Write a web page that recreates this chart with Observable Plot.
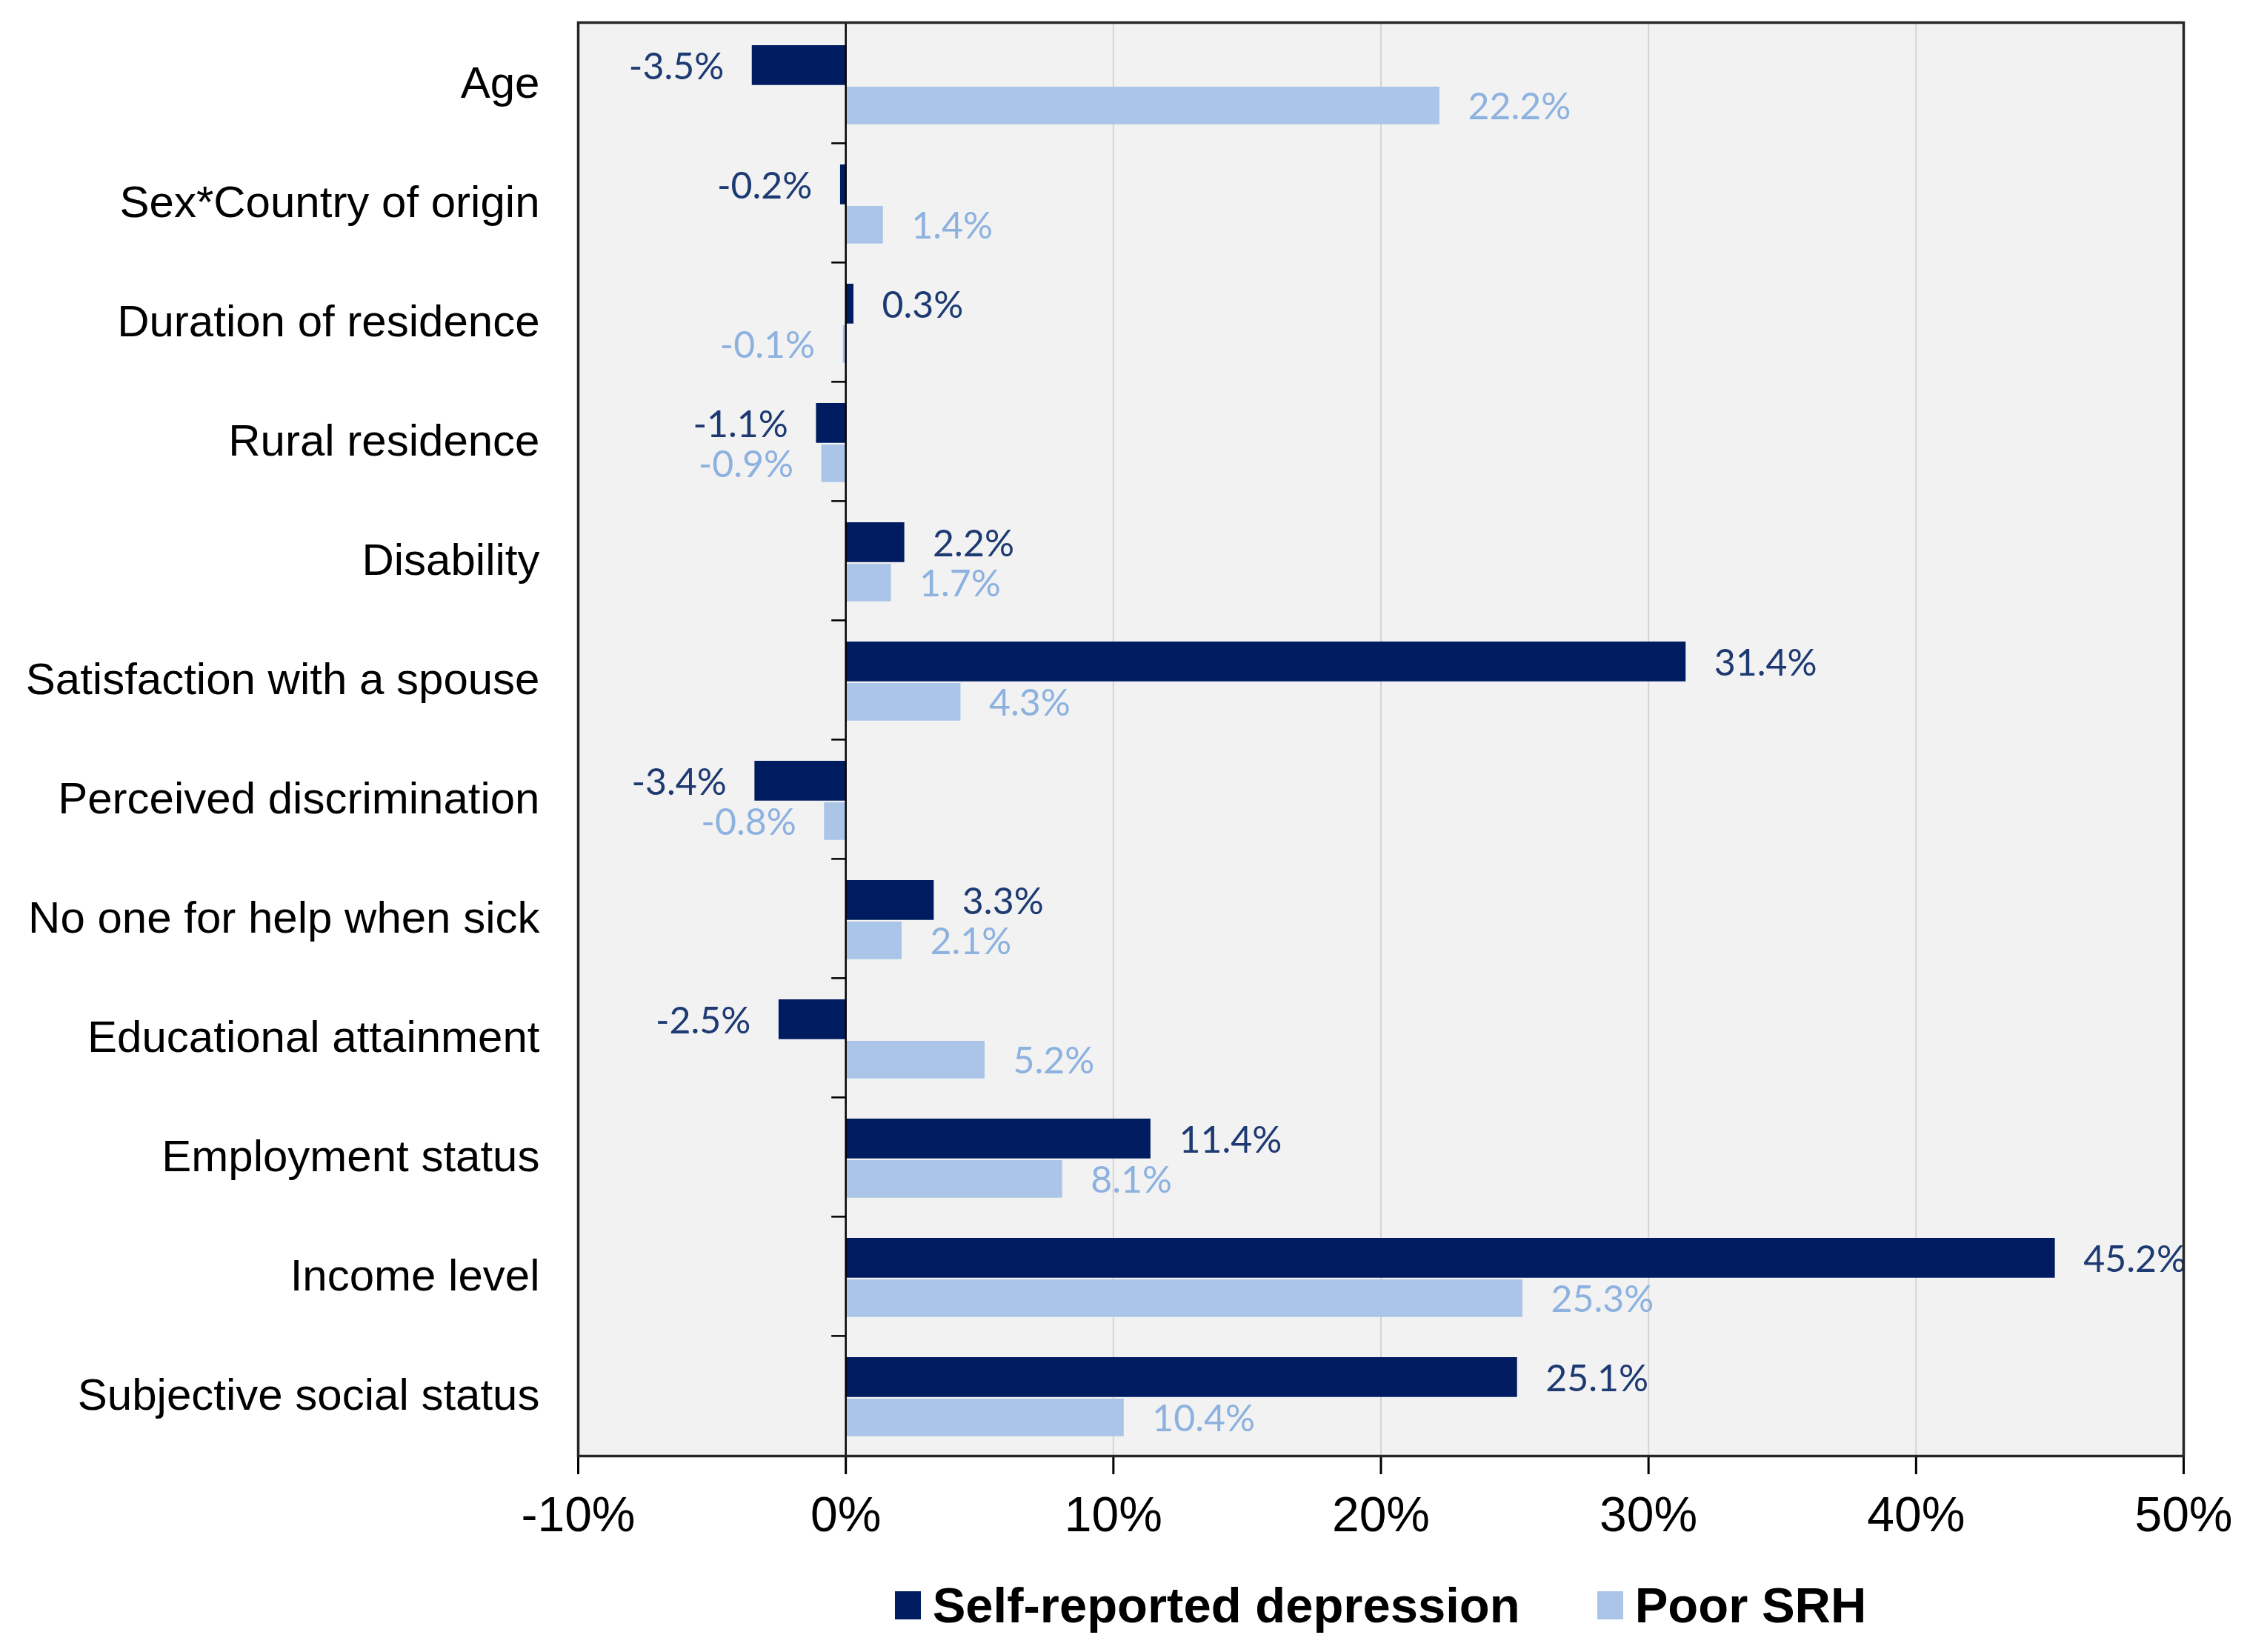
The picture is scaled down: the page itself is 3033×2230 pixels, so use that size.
<!DOCTYPE html>
<html>
<head>
<meta charset="utf-8">
<script src="https://cdn.jsdelivr.net/npm/d3@7"></script>
<script src="https://cdn.jsdelivr.net/npm/@observablehq/plot@0.6"></script>
<style>
  html, body { margin: 0; padding: 0; background: white; }
  #chart svg [aria-label^="x-axis"] line,
  #chart svg [aria-label^="x-axis"] path { stroke-width: 3px; }
  #chart svg [aria-label^="x-axis"] text { font-size: 66px; }
  .legend { display: flex; justify-content: center; align-items: center;
            margin-left: 780px; width: 2167px; margin-top: 28px;
            font-family: "Liberation Sans", Arial, sans-serif; font-weight: bold; font-size: 67px; }
  .legend .item { display: flex; align-items: center; margin: 0 52px; }
  .legend .sw { width: 35px; height: 38px; margin-right: 16px; }
</style>
</head>
<body>
<div id="chart"></div>
<script>
const categories = ["Age","Sex*Country of origin","Duration of residence","Rural residence","Disability","Satisfaction with a spouse","Perceived discrimination","No one for help when sick","Educational attainment","Employment status","Income level","Subjective social status"];
const depression = [-3.5,-0.2,0.3,-1.1,2.2,31.4,-3.4,3.3,-2.5,11.4,45.2,25.1];
const poorSRH = [22.2,1.4,-0.1,-0.9,1.7,4.3,-0.8,2.1,5.2,8.1,25.3,10.4];
const xTicks = [-10,0,10,20,30,40,50];
const seriesNames = ["Self-reported depression","Poor SRH"];
const seriesColors = ["#001c61","#aac5e8"];
const labelColors = ["#1d3a72","#8db2e0"];

const W = 3033, H = 2100, mT = 30, mB = 135, mL = 780, mR = 86;
const step = (H - mT - mB) / categories.length;

const dep = categories.map((c, i) => ({category: c, value: depression[i]}));
const srh = categories.map((c, i) => ({category: c, value: poorSRH[i]}));
const fmt = v => `${v.toFixed(1)}%`;
const lblFont = "Lato, 'Open Sans', sans-serif";

function labels(data, color, dy) {
  return [
    Plot.text(data.filter(d => d.value >= 0), {x: "value", y: "category", text: d => fmt(d.value), textAnchor: "start", dx: 38, dy, fill: color, fontSize: 50, fontFamily: lblFont}),
    Plot.text(data.filter(d => d.value < 0), {x: "value", y: "category", text: d => fmt(d.value), textAnchor: "end", dx: -38, dy, fill: color, fontSize: 50, fontFamily: lblFont})
  ];
}

const chart = Plot.plot({
  width: W, height: H,
  marginTop: mT, marginBottom: mB, marginLeft: mL, marginRight: mR,
  style: {fontFamily: "'Liberation Sans', Arial, sans-serif", fontSize: "60px", background: "white", color: "black", overflow: "visible"},
  x: {domain: [-10, 50], ticks: xTicks, tickFormat: d => `${d}%`, tickSize: 25, tickPadding: 30, label: null},
  y: {domain: categories, padding: 0, tickSize: 0, tickPadding: 52, label: null},
  marks: [
    Plot.frame({fill: "#f2f2f2", stroke: null}),
    Plot.ruleX(xTicks.filter(d => d !== 0), {stroke: "#d4d4d4", strokeWidth: 2}),
    Plot.barX(dep, {x1: d => 0, x2: "value", y: "category", fill: seriesColors[0], insetTop: 29, insetBottom: step - 29 - 54}),
    Plot.barX(srh, {x1: d => 0, x2: "value", y: "category", fill: seriesColors[1], insetTop: 85, insetBottom: step - 85 - 51}),
    Plot.ruleX([0], {stroke: "black", strokeWidth: 2.5}),
    Plot.ruleY(categories.slice(1), {y: d => d, x1: d => 0, x2: d => 0, dy: -step / 2, insetLeft: -19, stroke: "black", strokeWidth: 2.5}),
    ...labels(dep, labelColors[0], -22),
    ...labels(srh, labelColors[1], 32),
    Plot.frame({stroke: "#262626", strokeWidth: 3.5})
  ]
});
document.getElementById("chart").appendChild(chart);

const legend = document.createElement("div");
legend.className = "legend";
seriesNames.forEach((name, i) => {
  const item = document.createElement("div");
  item.className = "item";
  const sw = document.createElement("div");
  sw.className = "sw";
  sw.style.background = seriesColors[i];
  const t = document.createElement("span");
  t.textContent = name;
  item.appendChild(sw);
  item.appendChild(t);
  legend.appendChild(item);
});
document.getElementById("chart").appendChild(legend);
</script>
</body>
</html>
